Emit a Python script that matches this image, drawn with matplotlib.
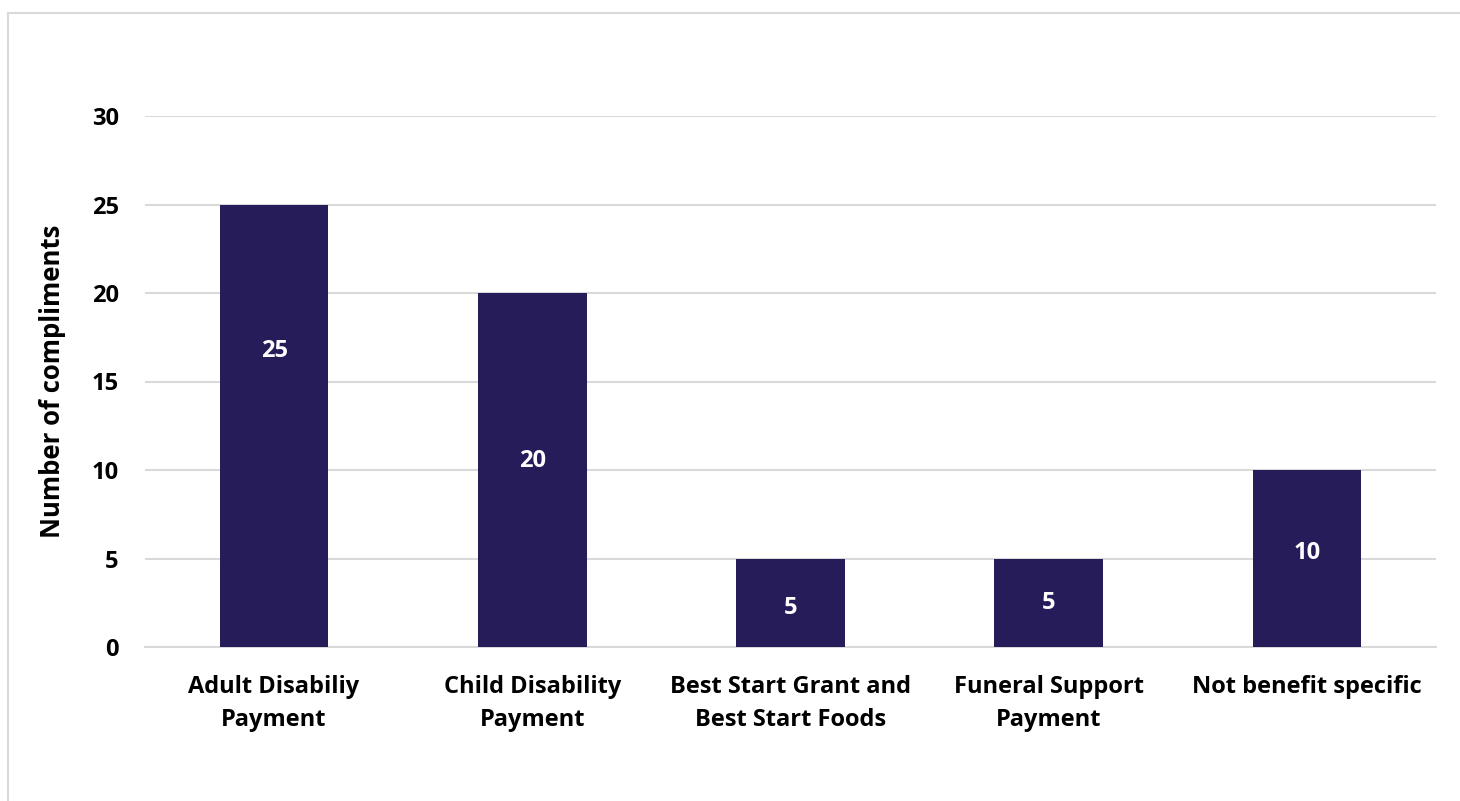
import matplotlib
matplotlib.use("Agg")
from matplotlib import pyplot as plt
from matplotlib.lines import Line2D

categories = ["Adult Disabiliy\nPayment", "Child Disability\nPayment",
              "Best Start Grant and\nBest Start Foods", "Funeral Support\nPayment",
              "Not benefit specific"]
compliments = [25, 20, 5, 5, 10]
# where each value label sits inside its bar (data units)
label_y = [16.7, 10.5, 2.2, 2.5, 5.3]
y_ticks = [0, 5, 10, 15, 20, 25, 30]

bar_color = "#261C5A"
grid_color = "#D9D9D9"
fs = 17

plt.rcParams["font.family"] = ["Open Sans", "DejaVu Sans"]
plt.rcParams["font.weight"] = "bold"

fig = plt.figure(figsize=(14.6, 8.01), dpi=100)
ax = fig.add_axes([145 / 1460, 1 - 647 / 801, 1291 / 1460, 531 / 801])

x = range(len(categories))
ax.bar(x, compliments, width=0.42, color=bar_color, zorder=3)
for xi, v, ly in zip(x, compliments, label_y):
    ax.text(xi, ly, str(v), ha="center", va="center", color="white",
            fontsize=fs, fontweight="bold", zorder=4)

ax.set_xlim(-0.5, len(categories) - 0.5)
ax.set_ylim(0, 30)
ax.set_yticks(y_ticks)
ax.set_xticks(list(x))
ax.set_xticklabels(categories, fontsize=fs, fontweight="bold", linespacing=1.5)
ax.tick_params(axis="both", length=0, labelsize=fs)
ax.tick_params(axis="x", pad=20)
ax.tick_params(axis="y", pad=19)
for lbl in ax.get_yticklabels():
    lbl.set_fontweight("bold")

ax.grid(axis="y", color=grid_color, linewidth=1.5, zorder=0)
for side in ["top", "right", "left"]:
    ax.spines[side].set_visible(False)
ax.spines["bottom"].set_color(grid_color)
ax.spines["bottom"].set_linewidth(1.5)
ax.set_axisbelow(True)

ax.set_ylabel("Number of compliments", fontsize=18.5, fontweight="bold", labelpad=18)

# chart frame
fig.add_artist(Line2D([8 / 1460, 1], [1 - 13 / 801, 1 - 13 / 801],
                      transform=fig.transFigure, color=grid_color, linewidth=1.5))
fig.add_artist(Line2D([8 / 1460, 8 / 1460], [0, 1 - 13 / 801],
                      transform=fig.transFigure, color=grid_color, linewidth=1.5))

fig.savefig("out.png", dpi=100)
